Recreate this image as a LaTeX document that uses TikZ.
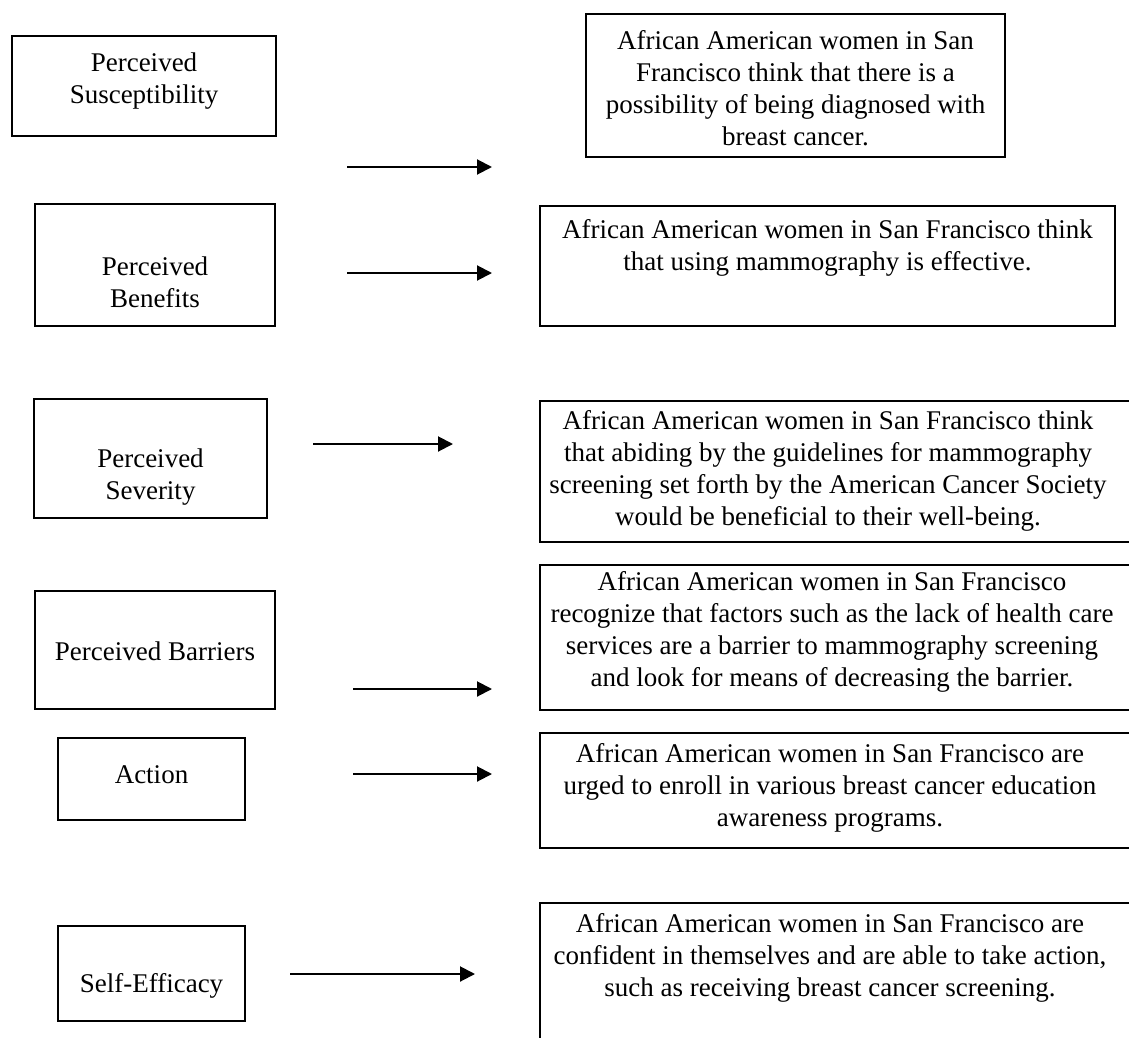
\documentclass[tikz,border=0pt]{standalone}
\usepackage{fontspec}
\setmainfont{Liberation Serif}
\usepackage{tikz}
\usetikzlibrary{arrows.meta}

\tikzset{
  factor/.style 2 args={draw, line width=1.2pt, inner sep=0pt, minimum width=#1*0.5pt, minimum height=#2*0.5pt},
  words/.style={align=center, inner sep=0pt, font=\fontsize{13.5}{16}\selectfont},
  link/.style={line width=1pt, -{Triangle[length=7.5pt, width=7.5pt]}}
}

\begin{document}
\begin{tikzpicture}[x=0.5pt, y=-0.5pt]
\clip (0,0) rectangle (1129,1038);

\node[factor={264}{100}] (sus) at (144,86) {};
\node[factor={240}{122}] (ben) at (155,265) {};
\node[factor={233}{119}] (sev) at (150.5,458.5) {};
\node[factor={240}{118}] (bar) at (155,650) {};
\node[factor={187}{82}] (act) at (151.5,779) {};
\node[factor={187}{95}] (eff) at (151.5,973.5) {};

\node[words] (sustxt) at (144,81) {Perceived\\Susceptibility};
\node[words] (bentxt) at (155,282) {Perceived\\Benefits};
\node[words] (sevtxt) at (150.5,477) {Perceived\\Severity};
\node[words] (bartxt) at (155,651) {Perceived Barriers};
\node[words] (acttxt) at (151.5,775) {Action};
\node[words] (efftxt) at (151.5,986) {Self-Efficacy};

\node[factor={419}{143}] (susr) at (795.5,85.5) {};
\node[factor={575}{120}] (benr) at (827.5,266) {};
\node[factor={660}{141}] (sevr) at (870,471.5) {};
\node[factor={660}{145}] (barr) at (870,637.5) {};
\node[factor={660}{115}] (actr) at (870,790.5) {};
\node[factor={660}{160}] (effr) at (870,983) {};

\node[words] (susrtxt) at (795.5,88) {African American women in San\\Francisco think that there is a\\possibility of being diagnosed with\\breast cancer.};
\node[words] (benrtxt) at (827.5,248) {African American women in San Francisco think\\that using mammography is effective.};
\node[words] (sevrtxt) at (828,471) {African American women in San Francisco think\\that abiding by the guidelines for mammography\\screening set forth by the American Cancer Society\\would be beneficial to their well-being.};
\node[words] (barrtxt) at (832,631.5) {African American women in San Francisco\\recognize that factors such as the lack of health care\\services are a barrier to mammography screening\\and look for means of decreasing the barrier.};
\node[words] (actrtxt) at (830,788) {African American women in San Francisco are\\urged to enroll in various breast cancer education\\awareness programs.};
\node[words] (effrtxt) at (830,958) {African American women in San Francisco are\\confident in themselves and are able to take action,\\such as receiving breast cancer screening.};

\coordinate (a1s) at (347,167); \coordinate (a1e) at (492,167);
\coordinate (a2s) at (347,273); \coordinate (a2e) at (492,273);
\coordinate (a3s) at (313,444); \coordinate (a3e) at (453,444);
\coordinate (a4s) at (353,689); \coordinate (a4e) at (492,689);
\coordinate (a5s) at (353,774); \coordinate (a5e) at (492,774);
\coordinate (a6s) at (290,974); \coordinate (a6e) at (475,974);

\draw[link] (a1s) -- (a1e);
\draw[link] (a2s) -- (a2e);
\draw[link] (a3s) -- (a3e);
\draw[link] (a4s) -- (a4e);
\draw[link] (a5s) -- (a5e);
\draw[link] (a6s) -- (a6e);

\end{tikzpicture}
\end{document}
